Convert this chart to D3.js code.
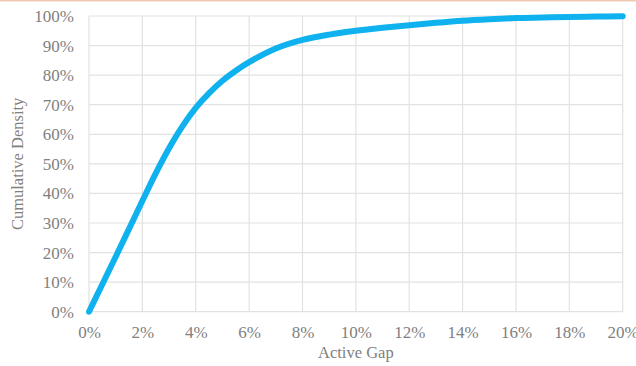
<!DOCTYPE html>
<html>
<head>
<meta charset="utf-8">
<script src="https://cdn.jsdelivr.net/npm/d3@7"></script>
<style>
  body { margin: 0; background: #fff; }
  svg { display: block; }
</style>
</head>
<body>
<div id="chart"></div>
<script>
'use strict';

// active gap (%) and cumulative density (%)
var gap = [0, 0.5, 1, 1.5, 2, 2.5, 3, 3.5, 4, 4.5, 5, 5.5, 6, 7, 8, 9, 10, 11, 12, 13, 14, 15, 16, 17, 18, 19, 20];
var density = [0, 9.3, 18.6, 28, 37.5, 46.8, 55.3, 62.7, 68.9, 73.9, 78.1, 81.5, 84.4, 89.0, 91.9, 93.7, 95.0, 96.0, 96.9, 97.7, 98.4, 98.9, 99.3, 99.5, 99.7, 99.8, 99.9];

var xTicks = [0, 2, 4, 6, 8, 10, 12, 14, 16, 18, 20];
var yTicks = [0, 10, 20, 30, 40, 50, 60, 70, 80, 90, 100];

var width = 636, height = 366;
var margin = {top: 16, right: 13.3, bottom: 54.3, left: 89};
var innerW = width - margin.left - margin.right;
var innerH = height - margin.top - margin.bottom;

var svg = d3.select('#chart').append('svg')
	.attr('width', width)
	.attr('height', height);

// thin peach border along the top edge
svg.append('rect')
	.attr('x', 0).attr('y', 0)
	.attr('width', width).attr('height', 1.5)
	.attr('fill', '#f0c9b6');

var g = svg.append('g')
	.attr('transform', 'translate(' + margin.left + ',' + margin.top + ')');

var xScale = d3.scaleLinear().domain([0, 20]).range([0, innerW]);
var yScale = d3.scaleLinear().domain([0, 100]).range([innerH, 0]);

var labelColor = '#7f7f7f';
var font = '"Liberation Serif", "Times New Roman", serif';

// gridlines
g.append('g')
	.selectAll('line')
	.data(yTicks)
	.join('line')
	.attr('x1', 0).attr('x2', innerW)
	.attr('y1', function(d) { return yScale(d); })
	.attr('y2', function(d) { return yScale(d); })
	.attr('stroke', '#e2e2e2')
	.attr('stroke-width', 1.2);

g.append('g')
	.selectAll('line')
	.data(xTicks)
	.join('line')
	.attr('y1', 0).attr('y2', innerH)
	.attr('x1', function(d) { return xScale(d); })
	.attr('x2', function(d) { return xScale(d); })
	.attr('stroke', '#e2e2e2')
	.attr('stroke-width', 1.2);

// axes (labels only)
var xAxis = g.append('g')
	.attr('transform', 'translate(0,' + innerH + ')')
	.call(d3.axisBottom(xScale).tickValues(xTicks).tickSize(0).tickPadding(14)
		.tickFormat(function(d) { return d + '%'; }));

var yAxis = g.append('g')
	.call(d3.axisLeft(yScale).tickValues(yTicks).tickSize(0).tickPadding(15)
		.tickFormat(function(d) { return d + '%'; }));

[xAxis, yAxis].forEach(function(ax) {
	ax.select('.domain').remove();
	ax.selectAll('text')
		.attr('fill', labelColor)
		.style('font-family', font)
		.style('font-size', '17px');
});

// the cumulative density curve
var line = d3.line()
	.x(function(d, i) { return xScale(gap[i]); })
	.y(function(d) { return yScale(d); })
	.curve(d3.curveCatmullRom.alpha(0.5));

g.append('path')
	.datum(density)
	.attr('d', line)
	.attr('fill', 'none')
	.attr('stroke', '#0fb2ee')
	.attr('stroke-width', 6)
	.attr('stroke-linecap', 'round')
	.attr('stroke-linejoin', 'round');

// axis titles
svg.append('text')
	.attr('x', margin.left + innerW / 2)
	.attr('y', 358)
	.attr('text-anchor', 'middle')
	.attr('fill', labelColor)
	.style('font-family', font)
	.style('font-size', '16.5px')
	.text('Active Gap');

svg.append('text')
	.attr('transform', 'translate(23,' + (margin.top + innerH / 2) + ') rotate(-90)')
	.attr('text-anchor', 'middle')
	.attr('fill', labelColor)
	.style('font-family', font)
	.style('font-size', '16.5px')
	.text('Cumulative Density');
</script>
</body>
</html>
